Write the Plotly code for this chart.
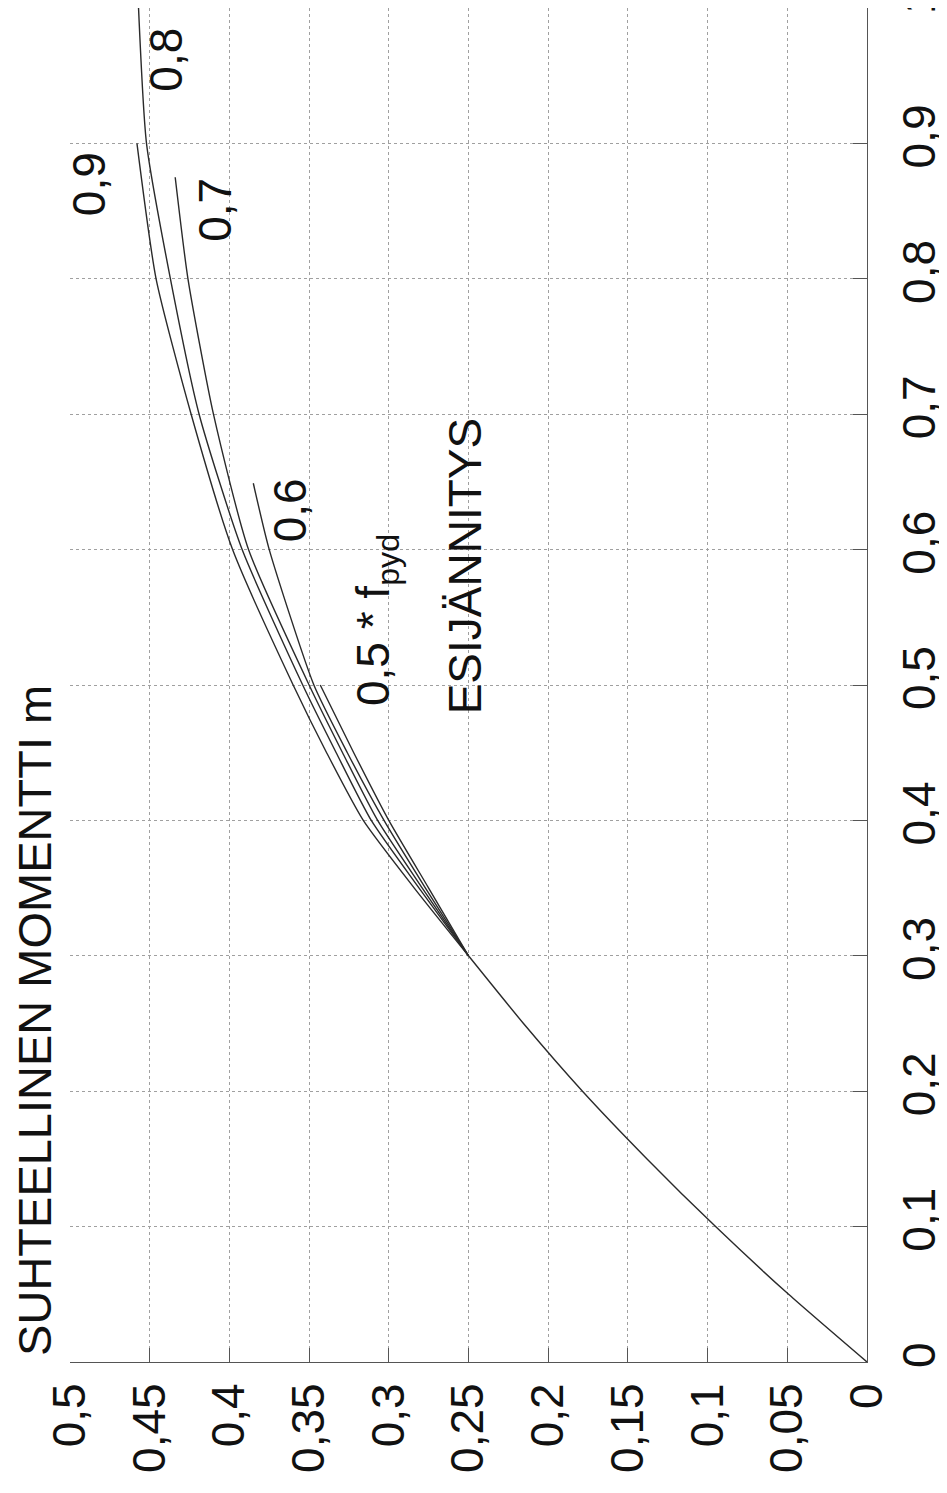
import plotly.graph_objects as go

# Common part of the curve (omega -> relative moment m)
omega_base = [0, 0.05, 0.1, 0.15, 0.2, 0.25, 0.3]
m_base = [0, 0.0492, 0.0950, 0.1380, 0.1785, 0.2155, 0.25]

# Branches for different prestress levels
omega_09 = [0.3, 0.35, 0.4, 0.45, 0.5, 0.6, 0.7, 0.8, 0.9]
m_09 = [0.25, 0.284, 0.316, 0.339, 0.360, 0.398, 0.424, 0.446, 0.458]

omega_08 = [0.3, 0.35, 0.4, 0.45, 0.5, 0.6, 0.7, 0.8, 0.9, 1.0]
m_08 = [0.25, 0.281, 0.311, 0.333, 0.354, 0.392, 0.419, 0.437, 0.452, 0.457]

omega_07 = [0.3, 0.35, 0.4, 0.45, 0.5, 0.6, 0.7, 0.8, 0.875]
m_07 = [0.25, 0.279, 0.307, 0.329, 0.350, 0.388, 0.410, 0.426, 0.434]

omega_06 = [0.3, 0.35, 0.4, 0.45, 0.5, 0.6, 0.649]
m_06 = [0.25, 0.277, 0.303, 0.326, 0.347, 0.375, 0.385]

omega_05 = [0.3, 0.35, 0.4, 0.45, 0.5]
m_05 = [0.25, 0.275, 0.300, 0.322, 0.343]

m_ticks = [0, 0.05, 0.1, 0.15, 0.2, 0.25, 0.3, 0.35, 0.4, 0.45, 0.5]
m_ticktext = ["0", "0,05", "0,1", "0,15", "0,2", "0,25", "0,3", "0,35", "0,4", "0,45", "0,5"]
omega_ticks = [0, 0.1, 0.2, 0.3, 0.4, 0.5, 0.6, 0.7, 0.8, 0.9, 1.0]
omega_ticktext = ["0", "0,1", "0,2", "0,3", "0,4", "0,5", "0,6", "0,7", "0,8", "0,9", "1"]

FONT = "Liberation Sans, Arial, sans-serif"
LINE = dict(color="#2a2a2a", width=1.4)

fig = go.Figure()
for om, mm in [(omega_base, m_base), (omega_09, m_09), (omega_08, m_08),
               (omega_07, m_07), (omega_06, m_06), (omega_05, m_05)]:
    fig.add_trace(go.Scatter(x=mm, y=om, mode="lines",
                             line=dict(**LINE, shape="spline", smoothing=0.6),
                             showlegend=False, hoverinfo="skip"))

fig.update_layout(
    width=939, height=1477,
    margin=dict(l=62, r=80, t=0, b=123, autoexpand=False),
    paper_bgcolor="white", plot_bgcolor="white",
    font=dict(family=FONT, size=46, color="#111"),
    showlegend=False,
)
common = dict(
    showgrid=True, gridcolor="#a0a0a0", griddash="dot", gridwidth=1,
    ticks="inside", ticklen=14, tickcolor="#555", tickwidth=1,
    showline=True, linecolor="#555", linewidth=1, mirror=False,
    zeroline=False, automargin=False, ticklabeloverflow="allow",
    tickfont=dict(family=FONT, size=46, color="#111"),
)
fig.update_xaxes(range=[0.5, 0], tickvals=m_ticks, ticktext=m_ticktext, tickangle=-90,
                 ticklabelstandoff=2, **common)
fig.update_yaxes(range=[0, 1], side="right", tickvals=omega_ticks, ticktext=omega_ticktext,
                 tickangle=-90, ticklabelstandoff=12, **common)

ann_font = dict(family=FONT, size=46, color="#111")
labels = [
    ("0,8", 0.44, 0.9616),
    ("0,9", 0.488, 0.87),
    ("0,7", 0.409, 0.851),
    ("0,6", 0.362, 0.629),
    ("0,5 * f<sub>pyd</sub>", 0.308, 0.548),
    ("ESIJÄNNITYS", 0.2525, 0.588),
]
for txt, xm, yo in labels:
    fig.add_annotation(x=xm, y=yo, xref="x", yref="y", text=txt, showarrow=False,
                       textangle=-90, font=ann_font, xanchor="center", yanchor="middle")

fig.add_annotation(x=-0.044, y=0.2526, xref="paper", yref="paper",
                   text="SUHTEELLINEN MOMENTTI m", showarrow=False, textangle=-90,
                   xanchor="center", yanchor="middle",
                   font=dict(family=FONT, size=47, color="#111"))

fig.write_html("out.html")
